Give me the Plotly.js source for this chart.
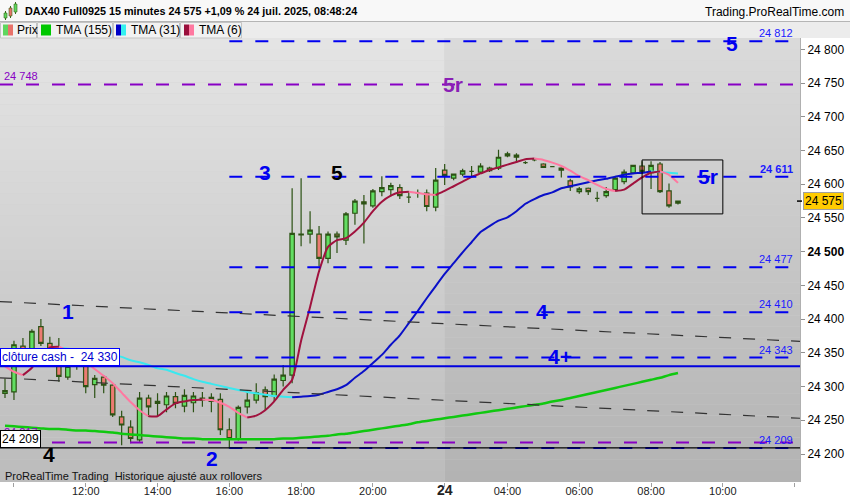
<!DOCTYPE html>
<html><head><meta charset="utf-8">
<script src="https://cdn.plot.ly/plotly-3.0.1.min.js"></script>
<style>html,body{margin:0;padding:0;background:#fff}#chart{width:850px;height:500px}</style>
</head><body><div id="chart"></div>
<script>
// ---------- data (15-minute bars, 23 Jul 09:45 -> 24 Jul 08:45) ----------
const opens  = [24290,24292,24360,24332,24389,24364,24344,24314,24335,24330,24303,24314,24302,24255,24240,24221,24283,24275,24273,24285,24271,24276,24283,24278,24281,24236,24223,24270,24280,24295,24286,24309,24317,24525,24526,24526,24490,24526,24517,24557,24574,24568,24589,24592,24595,24581,24587,24587,24566,24621,24609,24615,24619,24618,24624,24624,24642,24643,24632,24636,24630,24626,24624,24605,24589,24594,24579,24583,24592,24604,24617,24627,24617,24630,24590,24572];
const highs  = [24312,24368,24372,24385,24400,24374,24372,24357,24345,24345,24317,24317,24305,24264,24250,24292,24288,24290,24292,24292,24296,24292,24292,24290,24290,24253,24272,24294,24305,24300,24318,24332,24594,24609,24560,24538,24530,24530,24559,24578,24584,24593,24612,24602,24600,24590,24592,24592,24624,24630,24616,24623,24627,24631,24626,24651,24648,24646,24634,24637,24631,24627,24625,24608,24596,24595,24589,24596,24612,24622,24629,24634,24634,24633,24601,24576];
const lows   = [24283,24280,24330,24328,24360,24345,24307,24310,24325,24290,24283,24290,24255,24213,24216,24218,24255,24255,24262,24268,24262,24262,24270,24262,24228,24208,24220,24260,24275,24265,24278,24300,24305,24508,24512,24478,24483,24498,24510,24540,24512,24565,24582,24582,24578,24572,24580,24560,24560,24599,24606,24612,24612,24616,24618,24621,24640,24632,24630,24634,24624,24625,24610,24590,24586,24584,24574,24580,24590,24600,24615,24615,24593,24587,24565,24570];
const closes = [24294,24362,24348,24382,24364,24353,24315,24330,24330,24300,24312,24302,24258,24243,24223,24283,24270,24278,24286,24275,24287,24286,24280,24284,24236,24223,24269,24280,24291,24285,24311,24317,24527,24526,24532,24490,24526,24522,24556,24575,24571,24590,24595,24598,24583,24581,24587,24567,24606,24613,24615,24620,24619,24627,24620,24640,24645,24640,24632,24636,24625,24626,24621,24596,24593,24589,24579,24589,24609,24618,24628,24619,24628,24589,24568,24575];

const tma155 = [24242,24241,24240,24239,24238,24237,24237,24236,24235,24235,24234,24233,24232,24230,24229,24228,24227,24226,24225,24224,24223,24223,24222,24222,24222,24222,24222,24222,24222,24222,24222,24223,24223,24224,24225,24226,24227,24229,24230,24232,24234,24236,24238,24240,24242,24244,24247,24249,24251,24253,24255,24257,24259,24261,24263,24265,24267,24269,24271,24273,24275,24278,24280,24283,24286,24289,24292,24295,24298,24301,24304,24307,24310,24313,24317,24320];
const tma31  = [null,null,null,null,null,null,24357,24356,24355,24353,24352,24350,24347,24344,24339,24336,24332,24327,24325,24320,24316,24311,24307,24304,24301,24298,24295,24292,24290,24288,24286,24285,24284,24285,24286,24288,24292,24296,24302,24313,24323,24335,24347,24362,24376,24394,24412,24431,24449,24467,24483,24499,24514,24529,24538,24546,24551,24560,24571,24578,24584,24588,24594,24597,24600,24603,24606,24608,24611,24614,24616,24617,24619,24618,24617,24616];
const tma6   = [24330,24322,24317,24328,24345,24358,24359,24353,24345,24336,24326,24316,24305,24291,24277,24265,24256,24256,24266,24275,24278,24280,24281,24280,24276,24270,24261,24254,24257,24265,24278,24295,24310,24368,24418,24471,24507,24517,24520,24530,24543,24560,24574,24583,24588,24589,24587,24585,24584,24590,24597,24604,24611,24616,24621,24625,24629,24633,24637,24638,24636,24632,24627,24620,24612,24606,24599,24593,24590,24592,24601,24610,24617,24619,24614,24602];

// time axis labels (bar index -> label)
const tickBars   = [1, 9, 17, 25, 33, 41, 49, 56, 64, 72, 80, 88];
const tickLabels = ['', '12:00', '14:00', '16:00', '18:00', '20:00', '24', '04:00', '06:00', '08:00', '10:00', ''];

// price axis labels
const priceTicks = [24200,24250,24300,24350,24400,24450,24500,24550,24600,24650,24700,24750,24800];

// horizontal levels
const blueLevels   = [24812, 24611, 24477, 24410, 24343, 24209];
const blueLevelTxt = ['24 812','24 611','24 477','24 410','24 343','24 209'];
const purpleLevels = [24748, 24217];
const cashClose = 24330;
const supportLine = 24209;
const lastPrice = 24575;

// trend lines: [startValue, endValue]
const trendUpper = [24426, 24367];
const trendLower = [24313, 24253];

// zone box (bars, prices)
const boxBars = [71, 80];
const boxPrices = [24556, 24636];

// wave labels: [text, bar, price, colour-key]
const waveText  = ['5', '5r', '3', '5', '5r', '1', '4', '4+', '4', '2'];
const waveBar   = [81, 49.9, 29, 37, 78.4, 7, 59.9, 61.9, 4.9, 23.1];
const wavePrice = [24809, 24748, 24617, 24617, 24611, 24412, 24412, 24344, 24199, 24194];
const waveColor = ['blue','purple','blue','black','blue','blue','blue','blue','black','blue'];

// ---------- layout helpers ----------
const N = closes.length;
const xs = closes.map((_, i) => i);
const X0 = -0.557, X1 = 88.6;
const Y0 = 24158.5, Y1 = 24816.8;
const dayBreak = 49;
const BLUE = '#0000f0', PURPLE = '#8800c4';
const FONT = 'Liberation Sans, Arial, sans-serif';
const NARROW = 'Liberation Sans Narrow, Arial Narrow, Liberation Sans, sans-serif';

function lerp(a, b, t) { return Math.round(a + (b - a) * t); }
function grey(v) { return 'rgb(' + v + ',' + v + ',' + v + ')'; }

const shapes = [];
// background gradient bands
const NB = 40;
for (let k = 0; k < NB; k++) {
  const t = (k + 0.5) / NB; // 0 at top
  shapes.push({type:'rect', layer:'below', xref:'x', yref:'paper', x0:X0, x1:dayBreak,
    y0:1 - k / NB, y1:1 - (k + 1) / NB, fillcolor:grey(lerp(229, 187, t)), line:{width:0}});
  shapes.push({type:'rect', layer:'below', xref:'x', yref:'paper', x0:dayBreak, x1:X1,
    y0:1 - k / NB, y1:1 - (k + 1) / NB, fillcolor:grey(lerp(218, 178, t)), line:{width:0}});
}
// blue dashed levels (start at 16:00 bar)
blueLevels.forEach(v => shapes.push({type:'line', xref:'x', yref:'y', x0:25, x1:X1, y0:v, y1:v,
  line:{color:BLUE, width:2, dash:'13px,13px'}}));
// purple dashed levels
purpleLevels.forEach(v => shapes.push({type:'line', xref:'x', yref:'y', x0:X0, x1:X1, y0:v, y1:v,
  line:{color:PURPLE, width:2, dash:'13px,13px'}}));
// solid lines
shapes.push({type:'line', xref:'x', yref:'y', x0:X0, x1:X1, y0:cashClose, y1:cashClose, line:{color:'#0000e0', width:2}});
shapes.push({type:'line', xref:'x', yref:'y', x0:X0, x1:X1, y0:supportLine, y1:supportLine, line:{color:'#000', width:1.3}});
// trend lines
[trendUpper, trendLower].forEach(t => shapes.push({type:'line', xref:'x', yref:'y', x0:X0, x1:X1, y0:t[0], y1:t[1],
  line:{color:'#333', width:1.2, dash:'12px,12px'}}));
// zone box
shapes.push({type:'rect', xref:'x', yref:'y', x0:boxBars[0], x1:boxBars[1], y0:boxPrices[0], y1:boxPrices[1],
  line:{color:'#000', width:1}, fillcolor:'rgba(0,0,0,0)'});
// header + legend row backgrounds (paper coords; plot spans y 38..482 px)
const PH = 444;
const py = Y => (482 - Y) / PH;
const px = X => X / 800;
shapes.push({type:'rect', xref:'paper', yref:'paper', x0:px(0), x1:px(850), y0:py(0), y1:py(21), fillcolor:'#f8f8f8', line:{width:0}});
shapes.push({type:'line', xref:'paper', yref:'paper', x0:px(0), x1:px(850), y0:py(21.5), y1:py(21.5), line:{color:'#b5b5b5', width:1}});
shapes.push({type:'rect', xref:'paper', yref:'paper', x0:px(0), x1:px(850), y0:py(22), y1:py(38), fillcolor:'#ececec', line:{width:0}});
// legend boxes
const legBoxes = [[0,37],[37,113],[113,180],[180,242]];
legBoxes.forEach(b => shapes.push({type:'rect', xref:'paper', yref:'paper', x0:px(b[0]+0.5), x1:px(b[1]-0.5), y0:py(22.5), y1:py(38),
  fillcolor:'#f2f2f2', line:{color:'#c4c4c4', width:1}}));
const swatches = [[3,'#5ed65e','#e8726a'],[41,'#00c800','#00c800'],[116,'#0000c8','#33f0f0'],[184,'#9a0f3c','#ff78a0']];
swatches.forEach(s => {
  shapes.push({type:'rect', xref:'paper', yref:'paper', x0:px(s[0]), x1:px(s[0]+5), y0:py(24.5), y1:py(35.5), fillcolor:s[1], line:{width:0}});
  shapes.push({type:'rect', xref:'paper', yref:'paper', x0:px(s[0]+5), x1:px(s[0]+10), y0:py(24.5), y1:py(35.5), fillcolor:s[2], line:{width:0}});
});
// small candle icon in header
[[4,13,18,'#5ed65e'],[9,8,16,'#e8726a'],[14,4,12,'#5ed65e']].forEach(c => {
  shapes.push({type:'line', xref:'paper', yref:'paper', x0:px(c[0]+1.5), x1:px(c[0]+1.5), y0:py(c[1]-2), y1:py(c[2]+2), line:{color:'#3a6a1a', width:1}});
  shapes.push({type:'rect', xref:'paper', yref:'paper', x0:px(c[0]), x1:px(c[0]+3), y0:py(c[1]), y1:py(c[2]), fillcolor:c[3], line:{color:'#3a6a1a', width:0.6}});
});
// last price tick
shapes.push({type:'line', xref:'paper', yref:'y', x0:px(797), x1:px(802), y0:lastPrice, y1:lastPrice, line:{color:'#000', width:1.5}});

// ---------- annotations ----------
const ann = [];
ann.push({xref:'paper', yref:'paper', x:px(23), y:py(11), xanchor:'left', yanchor:'middle', showarrow:false,
  text:'<b>DAX40 Full0925 15 minutes 24 575 +1,09 % 24 juil. 2025, 08:48:24</b>', font:{family:FONT, size:10.8, color:'#000'}});
ann.push({xref:'paper', yref:'paper', x:px(846), y:py(12), xanchor:'right', yanchor:'middle', showarrow:false,
  text:'Trading.ProRealTime.com', font:{family:FONT, size:12, color:'#000'}});
const legText = [[15,'Prix'],[54,'TMA (155)'],[129,'TMA (31)'],[197,'TMA (6)']];
legText.forEach(l => ann.push({xref:'paper', yref:'paper', x:px(l[0]), y:py(30), xanchor:'left', yanchor:'middle', showarrow:false,
  text:l[1], font:{family:FONT, size:12, color:'#000'}}));
// right level labels
blueLevels.forEach((v, i) => ann.push({xref:'paper', yref:'y', x:px(795), y:v, xanchor:'right', yanchor:'bottom', yshift:0, showarrow:false,
  text: i === 1 ? '<b>' + blueLevelTxt[i] + '</b>' : blueLevelTxt[i], font:{family:FONT, size:11, color:'#1a1aff'}}));
// left purple labels
ann.push({xref:'paper', yref:'y', x:px(2), y:purpleLevels[0], xanchor:'left', yanchor:'bottom', showarrow:false,
  text:'24 748', font:{family:FONT, size:11, color:PURPLE}});
ann.push({xref:'paper', yref:'y', x:px(2), y:purpleLevels[1], xanchor:'left', yanchor:'bottom', yshift:3, showarrow:false,
  text:'24 217', font:{family:FONT, size:11, color:PURPLE}});
// boxed labels
ann.push({xref:'paper', yref:'y', x:0, y:cashClose, xanchor:'left', yanchor:'bottom', showarrow:false,
  text:'clôture cash -\u00a0 24 330', font:{family:FONT, size:12, color:'#0000d0'}, bgcolor:'#fff', bordercolor:'#0000ff', borderwidth:1, borderpad:1});
ann.push({xref:'paper', yref:'y', x:0, y:supportLine, xanchor:'left', yanchor:'bottom', showarrow:false,
  text:'24 209', font:{family:FONT, size:12, color:'#000'}, bgcolor:'#fff', bordercolor:'#000', borderwidth:1, borderpad:1});
// wave labels
const colMap = {blue:'#0000f0', purple:'#8a1fb5', black:'#000'};
waveText.forEach((t, i) => ann.push({xref:'x', yref:'y', x:waveBar[i], y:wavePrice[i], showarrow:false, xanchor:'center', yanchor:'middle',
  text:'<b>' + t + '</b>', font:{family:FONT, size:21, color:colMap[waveColor[i]]}}));
// bottom strip text
ann.push({xref:'paper', yref:'paper', x:px(3), y:py(476), xanchor:'left', yanchor:'middle', showarrow:false,
  text:'ProRealTime Trading\u00a0 Historique ajusté aux rollovers', font:{family:NARROW, size:11, color:'#111'}});
// last price label
ann.push({xref:'paper', yref:'y', x:px(803), y:lastPrice, xanchor:'left', yanchor:'middle', showarrow:false,
  text:'24 575', font:{family:FONT, size:12, color:'#000'}, bgcolor:'#ffcc00', bordercolor:'#a0a0a0', borderwidth:1, borderpad:1});

// ---------- traces ----------
function slopeSegments(vals, upColor, downColor, width, name) {
  const out = [];
  let cur = null, dir = null;
  for (let i = 1; i < vals.length; i++) {
    if (vals[i] == null || vals[i - 1] == null) continue;
    const d = vals[i] >= vals[i - 1] ? 'up' : 'down';
    if (d !== dir) {
      cur = {type:'scatter', mode:'lines', x:[i - 1], y:[vals[i - 1]], hoverinfo:'skip', showlegend:false, name:name,
        line:{color: d === 'up' ? upColor : downColor, width:width, shape:'spline', smoothing:0.6}};
      out.push(cur); dir = d;
    }
    cur.x.push(i); cur.y.push(vals[i]);
  }
  return out;
}

const traces = [];
traces.push({type:'scatter', mode:'lines', x:xs, y:tma155, line:{color:'#10c810', width:2.5, shape:'spline', smoothing:0.6}, hoverinfo:'skip', showlegend:false});
slopeSegments(tma31, '#0a10c8', '#3ae8ef', 2, 'TMA31').forEach(t => traces.push(t));
traces.push({type:'candlestick', x:xs, open:opens, high:highs, low:lows, close:closes, showlegend:false, whiskerwidth:0,
  increasing:{fillcolor:'#62de62', line:{color:'#2c5214', width:1.2}},
  decreasing:{fillcolor:'#ec7b72', line:{color:'#2c5214', width:1.2}}});
slopeSegments(tma6, '#a0123e', '#ff78a0', 2, 'TMA6').forEach(t => traces.push(t));

const layout = {
  width:850, height:500,
  margin:{l:0, r:50, t:38, b:18},
  paper_bgcolor:'#fff', plot_bgcolor:'#d0d0d0',
  showlegend:false,
  separators:', ',
  xaxis:{range:[X0, X1], rangeslider:{visible:false}, showgrid:false, zeroline:false, showline:false,
    tickvals:tickBars, ticktext:tickLabels.map(t => t === '24' ? '<b><span style="font-size:14px">24</span></b>' : t),
    ticks:'outside', ticklen:4, tickcolor:'#a0a0a0', ticklabelstandoff:-5, tickfont:{family:NARROW, size:11, color:'#222'}, fixedrange:true},
  yaxis:{range:[Y0, Y1], side:'right', showgrid:false, zeroline:false, showline:true, linecolor:'#b0b0b0', linewidth:1,
    tickvals:priceTicks, ticktext:priceTicks.map(v => { const s = String(v).slice(0,2) + ' ' + String(v).slice(2); return v === 24500 ? '<b>' + s + '</b>' : s; }),
    ticks:'outside', ticklen:4, tickcolor:'#909090', tickfont:{family:FONT, size:12, color:'#000'}, fixedrange:true},
  shapes:shapes,
  annotations:ann,
  boxgap:0.3
};

Plotly.newPlot('chart', traces, layout, {staticPlot:true, displayModeBar:false});
</script></body></html>
